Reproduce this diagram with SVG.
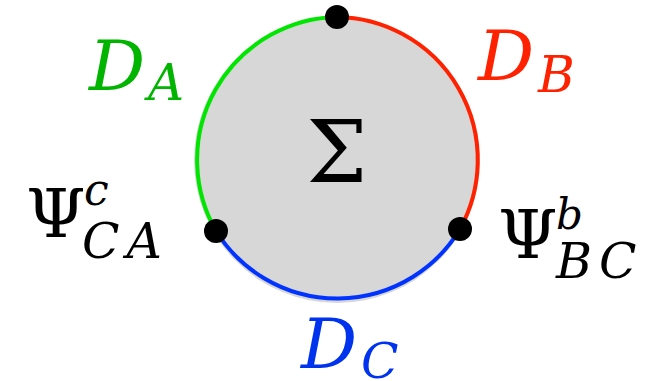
<svg xmlns="http://www.w3.org/2000/svg" width="660" height="381" viewBox="0 0 660 381">
<style>
text{font-family:'DejaVu Serif','Liberation Serif',serif;}
.i{font-style:italic;}
.arc{fill:none;stroke-width:4;}
.dot{fill:#000;}
</style>
<rect width="660" height="381" fill="#fff"/>
<g id="region">
<circle cx="337" cy="160" r="143" fill="#d7d7d7"/>
<text x="337" y="182" font-size="86" text-anchor="middle">Σ</text>
</g>
<g id="boundaries">
<path class="arc" stroke="#00e600" d="M337,17 A143,143 0 0 0 216,231"/>
<path class="arc" stroke="#ff2200" d="M337,17 A143,143 0 0 1 460,229"/>
<path class="arc" stroke="#0033ff" d="M216,231 A143,143 0 0 0 460,229"/>
</g>
<g id="DA" fill="#00b400">
<text class="i" x="89" y="90" font-size="70">D</text>
<text class="i" x="148" y="100" font-size="50">A</text>
</g>
<g id="DB" fill="#ff2200">
<text class="i" x="478" y="80" font-size="70">D</text>
<text class="i" x="538" y="92" font-size="50">B</text>
</g>
<g id="DC" fill="#0033ee">
<text class="i" x="301" y="368" font-size="70">D</text>
<text class="i" x="361" y="378" font-size="49">C</text>
</g>
<g id="PsiCA">
<circle class="dot" cx="216" cy="231" r="12"/>
<text x="26" y="237" font-size="68">Ψ</text>
<text class="i" x="84" y="205" font-size="44">c</text>
<text class="i" x="82" y="258" font-size="49" letter-spacing="7">CA</text>
</g>
<g id="PsiBC">
<circle class="dot" cx="460" cy="229" r="12"/>
<text x="498" y="258" font-size="68">Ψ</text>
<text class="i" x="556" y="229" font-size="42">b</text>
<text class="i" x="556" y="278" font-size="49" letter-spacing="6">BC</text>
</g>
<g id="top">
<circle class="dot" cx="337" cy="17" r="12"/>
</g>
</svg>
